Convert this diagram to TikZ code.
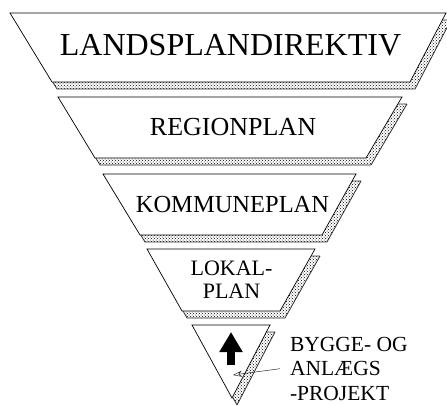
\documentclass[tikz,border=0pt]{standalone}
\usepackage{fontspec}
\setmainfont{Liberation Serif}
\usetikzlibrary{patterns,arrows.meta}

\begin{document}
\begin{tikzpicture}[x=1pt, y=-1pt]
\useasboundingbox (0,0) rectangle (447,405);
\clip (0,0) rectangle (447,405);

\coordinate (L1_1) at (10, 13);
\coordinate (L1_2) at (446, 13);
\coordinate (L1_3) at (410, 82);
\coordinate (L1_4) at (52, 82);
\coordinate (L2_1) at (58, 97);
\coordinate (L2_2) at (402, 97);
\coordinate (L2_3) at (366, 158);
\coordinate (L2_4) at (95, 158);
\coordinate (L3_1) at (103, 174);
\coordinate (L3_2) at (356, 174);
\coordinate (L3_3) at (322, 235);
\coordinate (L3_4) at (140, 235);
\coordinate (L4_1) at (147, 249);
\coordinate (L4_2) at (315, 249);
\coordinate (L4_3) at (280, 311);
\coordinate (L4_4) at (182, 311);
\coordinate (L5_1) at (192, 325);
\coordinate (L5_2) at (270, 325);
\coordinate (L5_3) at (232, 398);


\tikzset{BandStyle/.style = {pattern=crosshatch dots, pattern color=black, draw=black!80, line width=0.8pt, line join=bevel} }
\tikzset{FaceStyle/.style = {fill=white, draw=black, line width=0.7pt} }

\filldraw[BandStyle] ([shift={(5,7)}]L1_1) -- ([shift={(5,7)}]L1_2) -- ([shift={(5,7)}]L1_3) -- ([shift={(5,7)}]L1_4) -- cycle;
\filldraw[FaceStyle] (L1_1) -- (L1_2) -- (L1_3) -- (L1_4) -- cycle;
\filldraw[BandStyle] ([shift={(5,7)}]L2_1) -- ([shift={(5,7)}]L2_2) -- ([shift={(5,7)}]L2_3) -- ([shift={(5,7)}]L2_4) -- cycle;
\filldraw[FaceStyle] (L2_1) -- (L2_2) -- (L2_3) -- (L2_4) -- cycle;
\filldraw[BandStyle] ([shift={(5,7)}]L3_1) -- ([shift={(5,7)}]L3_2) -- ([shift={(5,7)}]L3_3) -- ([shift={(5,7)}]L3_4) -- cycle;
\filldraw[FaceStyle] (L3_1) -- (L3_2) -- (L3_3) -- (L3_4) -- cycle;
\filldraw[BandStyle] ([shift={(5,7)}]L4_1) -- ([shift={(5,7)}]L4_2) -- ([shift={(5,7)}]L4_3) -- ([shift={(5,7)}]L4_4) -- cycle;
\filldraw[FaceStyle] (L4_1) -- (L4_2) -- (L4_3) -- (L4_4) -- cycle;
\filldraw[BandStyle] ([shift={(5,7)}]L5_1) -- ([shift={(5,7)}]L5_2) -- ([shift={(5,7)}]L5_3) -- cycle;
\filldraw[FaceStyle] (L5_1) -- (L5_2) -- (L5_3) -- cycle;


\tikzset{LabelStyle/.style = {inner sep=0pt, outer sep=0pt, anchor=base} }

\node[LabelStyle, font=\fontsize{32}{36}\selectfont] (T1) at (230.5, 55) {LANDSPLANDIREKTIV};
\node[LabelStyle, font=\fontsize{26}{30}\selectfont] (T2) at (233, 135) {REGIONPLAN};
\node[LabelStyle, font=\fontsize{24.5}{28}\selectfont] (T3) at (232.5, 212) {KOMMUNEPLAN};
\node[LabelStyle, align=center, font=\fontsize{22}{23}\selectfont] (T4) at (231.5, 298) {LOKAL-\\PLAN};
\node[LabelStyle, anchor=base west, align=left, font=\fontsize{21.5}{24.3}\selectfont] (T5) at (290, 400) {BYGGE- OG\\ANLÆGS\\-PROJEKT};


\coordinate (A_1) at (231, 365);
\coordinate (A_2) at (231, 332);
\coordinate (P_1) at (233, 375);

\draw[line width=8pt, -{Triangle[length=20pt, width=22pt]}] (A_1) -- (A_2);
\draw[thin, -{Stealth[open, length=9pt, width=6pt]}] ([xshift=-10pt]T5.west) -- (P_1);

\end{tikzpicture}
\end{document}
